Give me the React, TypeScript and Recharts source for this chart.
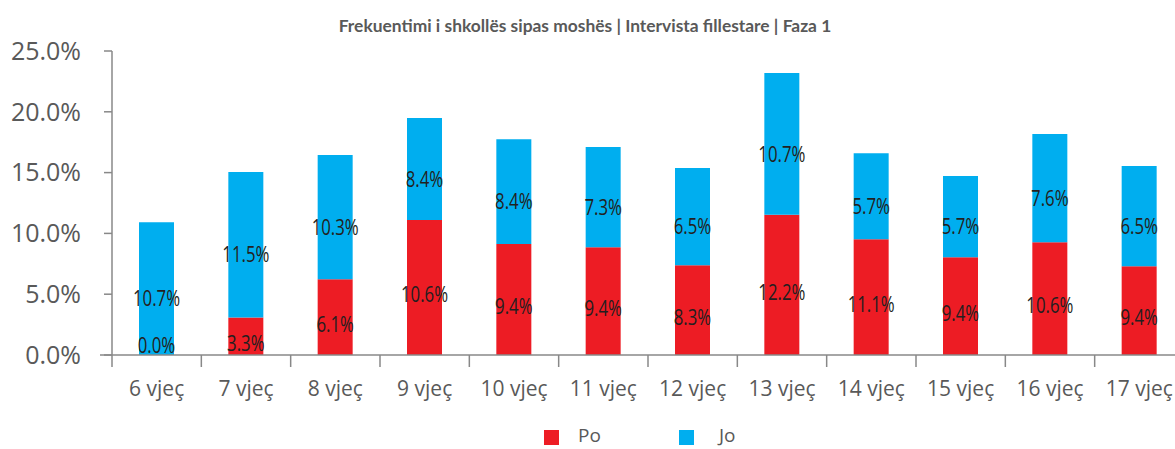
import React from 'react';
import { BarChart, Bar, XAxis, YAxis, LabelList } from 'recharts';

const categories = ['6 vjeç', '7 vjeç', '8 vjeç', '9 vjeç', '10 vjeç', '11 vjeç', '12 vjeç', '13 vjeç', '14 vjeç', '15 vjeç', '16 vjeç', '17 vjeç'];
const poValues = [0, 3.09, 6.22, 11.11, 9.13, 8.86, 7.38, 11.53, 9.52, 8.04, 9.27, 7.3];
const joValues = [10.92, 11.96, 10.23, 8.39, 8.62, 8.24, 8.0, 11.67, 7.08, 6.68, 8.9, 8.24];
const poLabels = ['0.0%', '3.3%', '6.1%', '10.6%', '9.4%', '9.4%', '8.3%', '12.2%', '11.1%', '9.4%', '10.6%', '9.4%'];
const joLabels = ['10.7%', '11.5%', '10.3%', '8.4%', '8.4%', '7.3%', '6.5%', '10.7%', '5.7%', '5.7%', '7.6%', '6.5%'];
const yTicks = [0, 5, 10, 15, 20, 25];
const seriesNames = ['Po', 'Jo'];
const title = 'Frekuentimi i shkollës sipas moshës | Intervista fillestare | Faza 1';

const RED = '#ED1C24';
const BLUE = '#00AEEF';
const GREY = '#595959';
const AXIS = '#888888';

const data = categories.map((c, i) => ({
  cat: c,
  po: poValues[i],
  jo: joValues[i],
  poLabel: poLabels[i],
  joLabel: joLabels[i],
}));

const CHART_W = 1190;
const M_LEFT = 0;
const Y_W = 112;
const M_RIGHT = 6;
const BAND = (CHART_W - M_LEFT - Y_W - M_RIGHT) / categories.length;

function XTick(props: any) {
  const { x, y, payload, index } = props;
  const left = x - BAND / 2;
  return (
    <g>
      <line x1={left} x2={left} y1={y} y2={y + 12} stroke={AXIS} strokeWidth={1.5} />
      {index === 0 && <line x1={left - 12} x2={left} y1={y} y2={y} stroke={AXIS} strokeWidth={1.5} />}
      <text x={x} y={y + 41} textAnchor="middle" fill={GREY} fontSize={21} fontFamily="'Open Sans', sans-serif">
        {payload.value}
      </text>
    </g>
  );
}

function NarrowText({ cx, cy, children }: any) {
  return (
    <text transform={`translate(${cx},${cy}) scale(0.8,1)`} x={0} y={0} textAnchor="middle"
      dominantBaseline="central" fill="#231f20" fontSize={21} fontFamily="'Open Sans', sans-serif">
      {children}
    </text>
  );
}

const makeLabel = (offset: number, isTop: boolean) => (props: any) => {
  const { x, y, width, height, value, index } = props;
  const cx = Number(x) + Number(width) / 2;
  const h = Number(height);
  const bottom = Number(y) + h;
  const cy = Number(y) + h / 2 + offset;
  const extra = isTop && data[index] && data[index].po === 0 ? (
    <NarrowText cx={cx} cy={bottom - 10}>{data[index].poLabel}</NarrowText>
  ) : null;
  if (h <= 1) return null;
  return (
    <g>
      <NarrowText cx={cx} cy={cy}>{value}</NarrowText>
      {extra}
    </g>
  );
};

export default function App() {
  return (
    <div style={{ position: 'fixed', left: 0, top: 0, width: 1175, height: 449, overflow: 'hidden', background: '#fff' }}>
      <BarChart width={CHART_W} height={449} data={data}
        margin={{ top: 51, right: M_RIGHT, left: M_LEFT, bottom: 34 }}>
        <XAxis dataKey="cat" height={60} interval={0} tickSize={0} tickMargin={0} tickLine={false}
          axisLine={{ stroke: AXIS, strokeWidth: 1.5 }} tick={<XTick />} />
        <YAxis width={Y_W} domain={[0, 25]} ticks={yTicks} interval={0}
          tickFormatter={(v: number) => v.toFixed(1) + '%'}
          tickSize={8} tickMargin={23}
          axisLine={{ stroke: AXIS, strokeWidth: 1.5 }} tickLine={{ stroke: AXIS, strokeWidth: 1.5 }}
          tick={{ fill: GREY, fontSize: 25, fontFamily: "'Open Sans', sans-serif" }} />
        <Bar dataKey="po" name={seriesNames[0]} stackId="a" fill={RED} barSize={35} isAnimationActive={false}>
          <LabelList dataKey="poLabel" content={makeLabel(7, false)} />
        </Bar>
        <Bar dataKey="jo" name={seriesNames[1]} stackId="a" fill={BLUE} barSize={35} isAnimationActive={false}>
          <LabelList dataKey="joLabel" content={makeLabel(10, true)} />
        </Bar>
      </BarChart>
      <svg width={1175} height={449} style={{ position: 'absolute', left: 0, top: 0, pointerEvents: 'none' }}>
        <text x={585} y={32} textAnchor="middle" fill={GREY} fontSize={17.4} fontWeight="bold"
          fontFamily="Lato, sans-serif">{title}</text>
        <rect x={544} y={430} width={15} height={15} fill={RED} />
        <text x={578} y={442} fill={GREY} fontSize={19} fontFamily="'Open Sans', sans-serif">{seriesNames[0]}</text>
        <rect x={679} y={430} width={15} height={15} fill={BLUE} />
        <text x={719} y={442} fill={GREY} fontSize={19} fontFamily="'Open Sans', sans-serif">{seriesNames[1]}</text>
      </svg>
    </div>
  );
}
